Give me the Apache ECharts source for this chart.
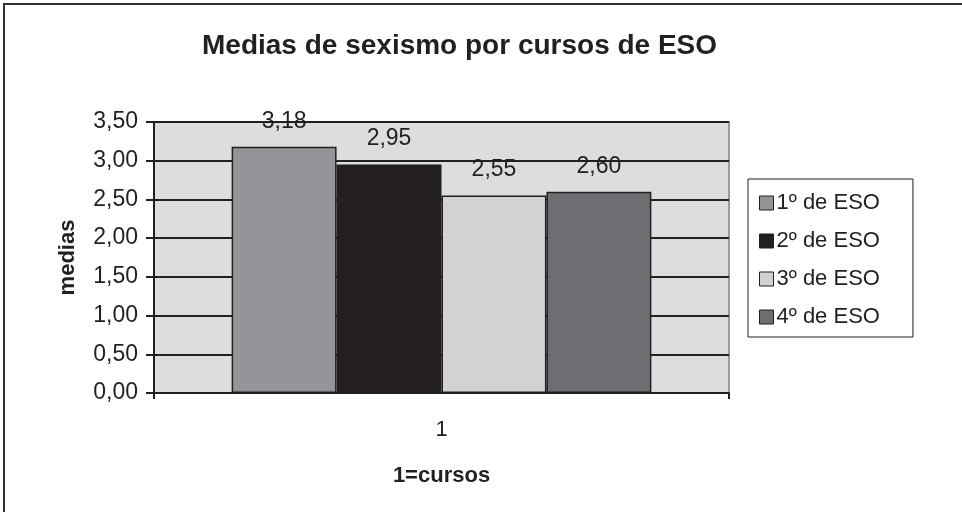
<!DOCTYPE html>
<html>
<head>
<meta charset="utf-8">
<script src="https://cdn.jsdelivr.net/npm/echarts@6/dist/echarts.min.js"></script>
<style>
html,body{margin:0;padding:0;background:#fff;}
#chart{width:962px;height:512px;}
</style>
</head>
<body>
<div id="chart"></div>
<script>
const categories = ['1'];
const seriesNames = ['1º de ESO', '2º de ESO', '3º de ESO', '4º de ESO'];
const seriesValues = [[3.18], [2.95], [2.55], [2.60]];
const seriesColors = ['#939598', '#231f20', '#d1d2d4', '#6d6e71'];
const yTicks = [0, 0.5, 1, 1.5, 2, 2.5, 3, 3.5];

const fmt = v => Number(v).toFixed(2).replace('.', ',');
const font = '"Liberation Sans", Arial, sans-serif';

const chart = echarts.init(document.getElementById('chart'));
chart.setOption({
  backgroundColor: '#fff',
  textStyle: { fontFamily: font },
  animation: false,
  title: {
    text: 'Medias de sexismo por cursos de ESO',
    left: 197, top: 27,
    textStyle: { fontSize: 28, fontWeight: 'bold', color: '#231f20', fontFamily: font }
  },
  graphic: [{
    type: 'rect', silent: true,
    shape: { x: 4, y: 4, width: 1000, height: 600 },
    style: { fill: 'none', stroke: '#333', lineWidth: 2 }
  }],
  grid: {
    left: 154, right: 233, top: 122, bottom: 119,
    show: true, backgroundColor: '#dcdddf', borderColor: '#9a9a9c', borderWidth: 2
  },
  legend: {
    orient: 'vertical', left: 748, top: 179,
    padding: [13, 33, 9, 11], itemGap: 16,
    borderColor: '#231f20', borderWidth: 1,
    icon: 'rect', itemWidth: 14, itemHeight: 14,
    itemStyle: { borderColor: '#231f20', borderWidth: 1 },
    textStyle: { fontSize: 22, color: '#231f20', fontFamily: font, padding: [0, 0, 0, -2] },
    data: seriesNames
  },
  xAxis: {
    type: 'category', data: categories,
    axisLine: { lineStyle: { color: '#231f20', width: 2 } },
    axisTick: { show: true, length: 6, lineStyle: { color: '#231f20', width: 2 } },
    axisLabel: { fontSize: 22, color: '#231f20', margin: 26, fontFamily: font },
    name: '1=cursos', nameLocation: 'middle', nameGap: 72,
    nameTextStyle: { fontSize: 22, fontWeight: 'bold', color: '#231f20', fontFamily: font }
  },
  yAxis: {
    type: 'value', min: 0, max: 3.5, interval: 0.5,
    axisLine: { show: true, lineStyle: { color: '#231f20', width: 2 } },
    axisTick: { show: true, length: 8, lineStyle: { color: '#231f20', width: 2 } },
    axisLabel: { fontSize: 23, color: '#231f20', margin: 16, formatter: v => yTicks.includes(v) ? fmt(v) : '', fontFamily: font },
    splitLine: { lineStyle: { color: '#231f20', width: 2 } },
    name: 'medias', nameLocation: 'middle', nameGap: 75, nameRotate: 90,
    nameTextStyle: { fontSize: 22, fontWeight: 'bold', color: '#231f20', fontFamily: font }
  },
  series: seriesNames.map((n, i) => ({
    type: 'bar', name: n, data: seriesValues[i],
    barGap: 0, barCategoryGap: '27%',
    itemStyle: { color: seriesColors[i], borderColor: '#231f20', borderWidth: 1.5 },
    label: { show: true, position: 'top', distance: 14, fontSize: 23, color: '#231f20', formatter: p => fmt(p.value), fontFamily: font }
  }))
});
</script>
</body>
</html>
